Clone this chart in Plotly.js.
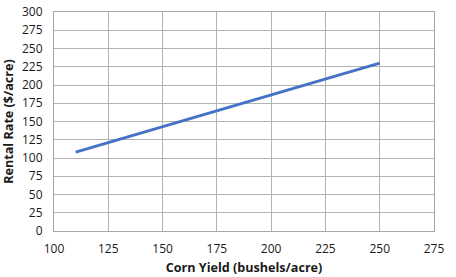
<!DOCTYPE html>
<html><head><meta charset="utf-8">
<script src="https://cdn.plot.ly/plotly-3.0.1.min.js"></script>
<style>html,body{margin:0;padding:0;background:#fff}</style>
</head><body><div id="c" style="width:456px;height:277px"></div>
<script>
const cornYield = [110, 250];
const rentalRate = [108, 230];
const xTicks = [100,125,150,175,200,225,250,275];
const yTicks = [0,25,50,75,100,125,150,175,200,225,250,275,300];
const fontFam = '"Open Sans", "Noto Sans", sans-serif';
Plotly.newPlot('c', [{
  x: cornYield, y: rentalRate, type: 'scatter', mode: 'lines',
  line: {color: '#4472C4', width: 3}, hoverinfo: 'none'
}], {
  width: 456, height: 277,
  margin: {l: 54, r: 22, t: 12, b: 46},
  paper_bgcolor: '#fff', plot_bgcolor: '#fff',
  showlegend: false,
  font: {family: fontFam, size: 12, color: '#1a1a1a'},
  xaxis: {
    range: [100, 275], tickvals: xTicks, ticktext: xTicks.map(String),
    showgrid: true, gridcolor: '#b3b3b3', gridwidth: 1,
    showline: true, linecolor: '#a6a6a6', linewidth: 1, mirror: true,
    zeroline: false, ticks: '', ticklabelstandoff: 7,
    tickfont: {size: 12, color: '#1a1a1a'},
    title: {text: '<b>Corn Yield (bushels/acre)</b>', font: {size: 12.6, color: '#1a1a1a'}, standoff: 6}
  },
  yaxis: {
    range: [0, 300], tickvals: yTicks, ticktext: yTicks.map(String),
    showgrid: true, gridcolor: '#b3b3b3', gridwidth: 1,
    showline: true, linecolor: '#a6a6a6', linewidth: 1, mirror: true,
    zeroline: false, ticks: '', ticklabelstandoff: 8,
    tickfont: {size: 12, color: '#1a1a1a'},
    title: {text: '<b>Rental Rate ($/acre)</b>', font: {size: 12.6, color: '#1a1a1a'}, standoff: 6}
  }
}, {staticPlot: true, displayModeBar: false});
</script></body></html>
